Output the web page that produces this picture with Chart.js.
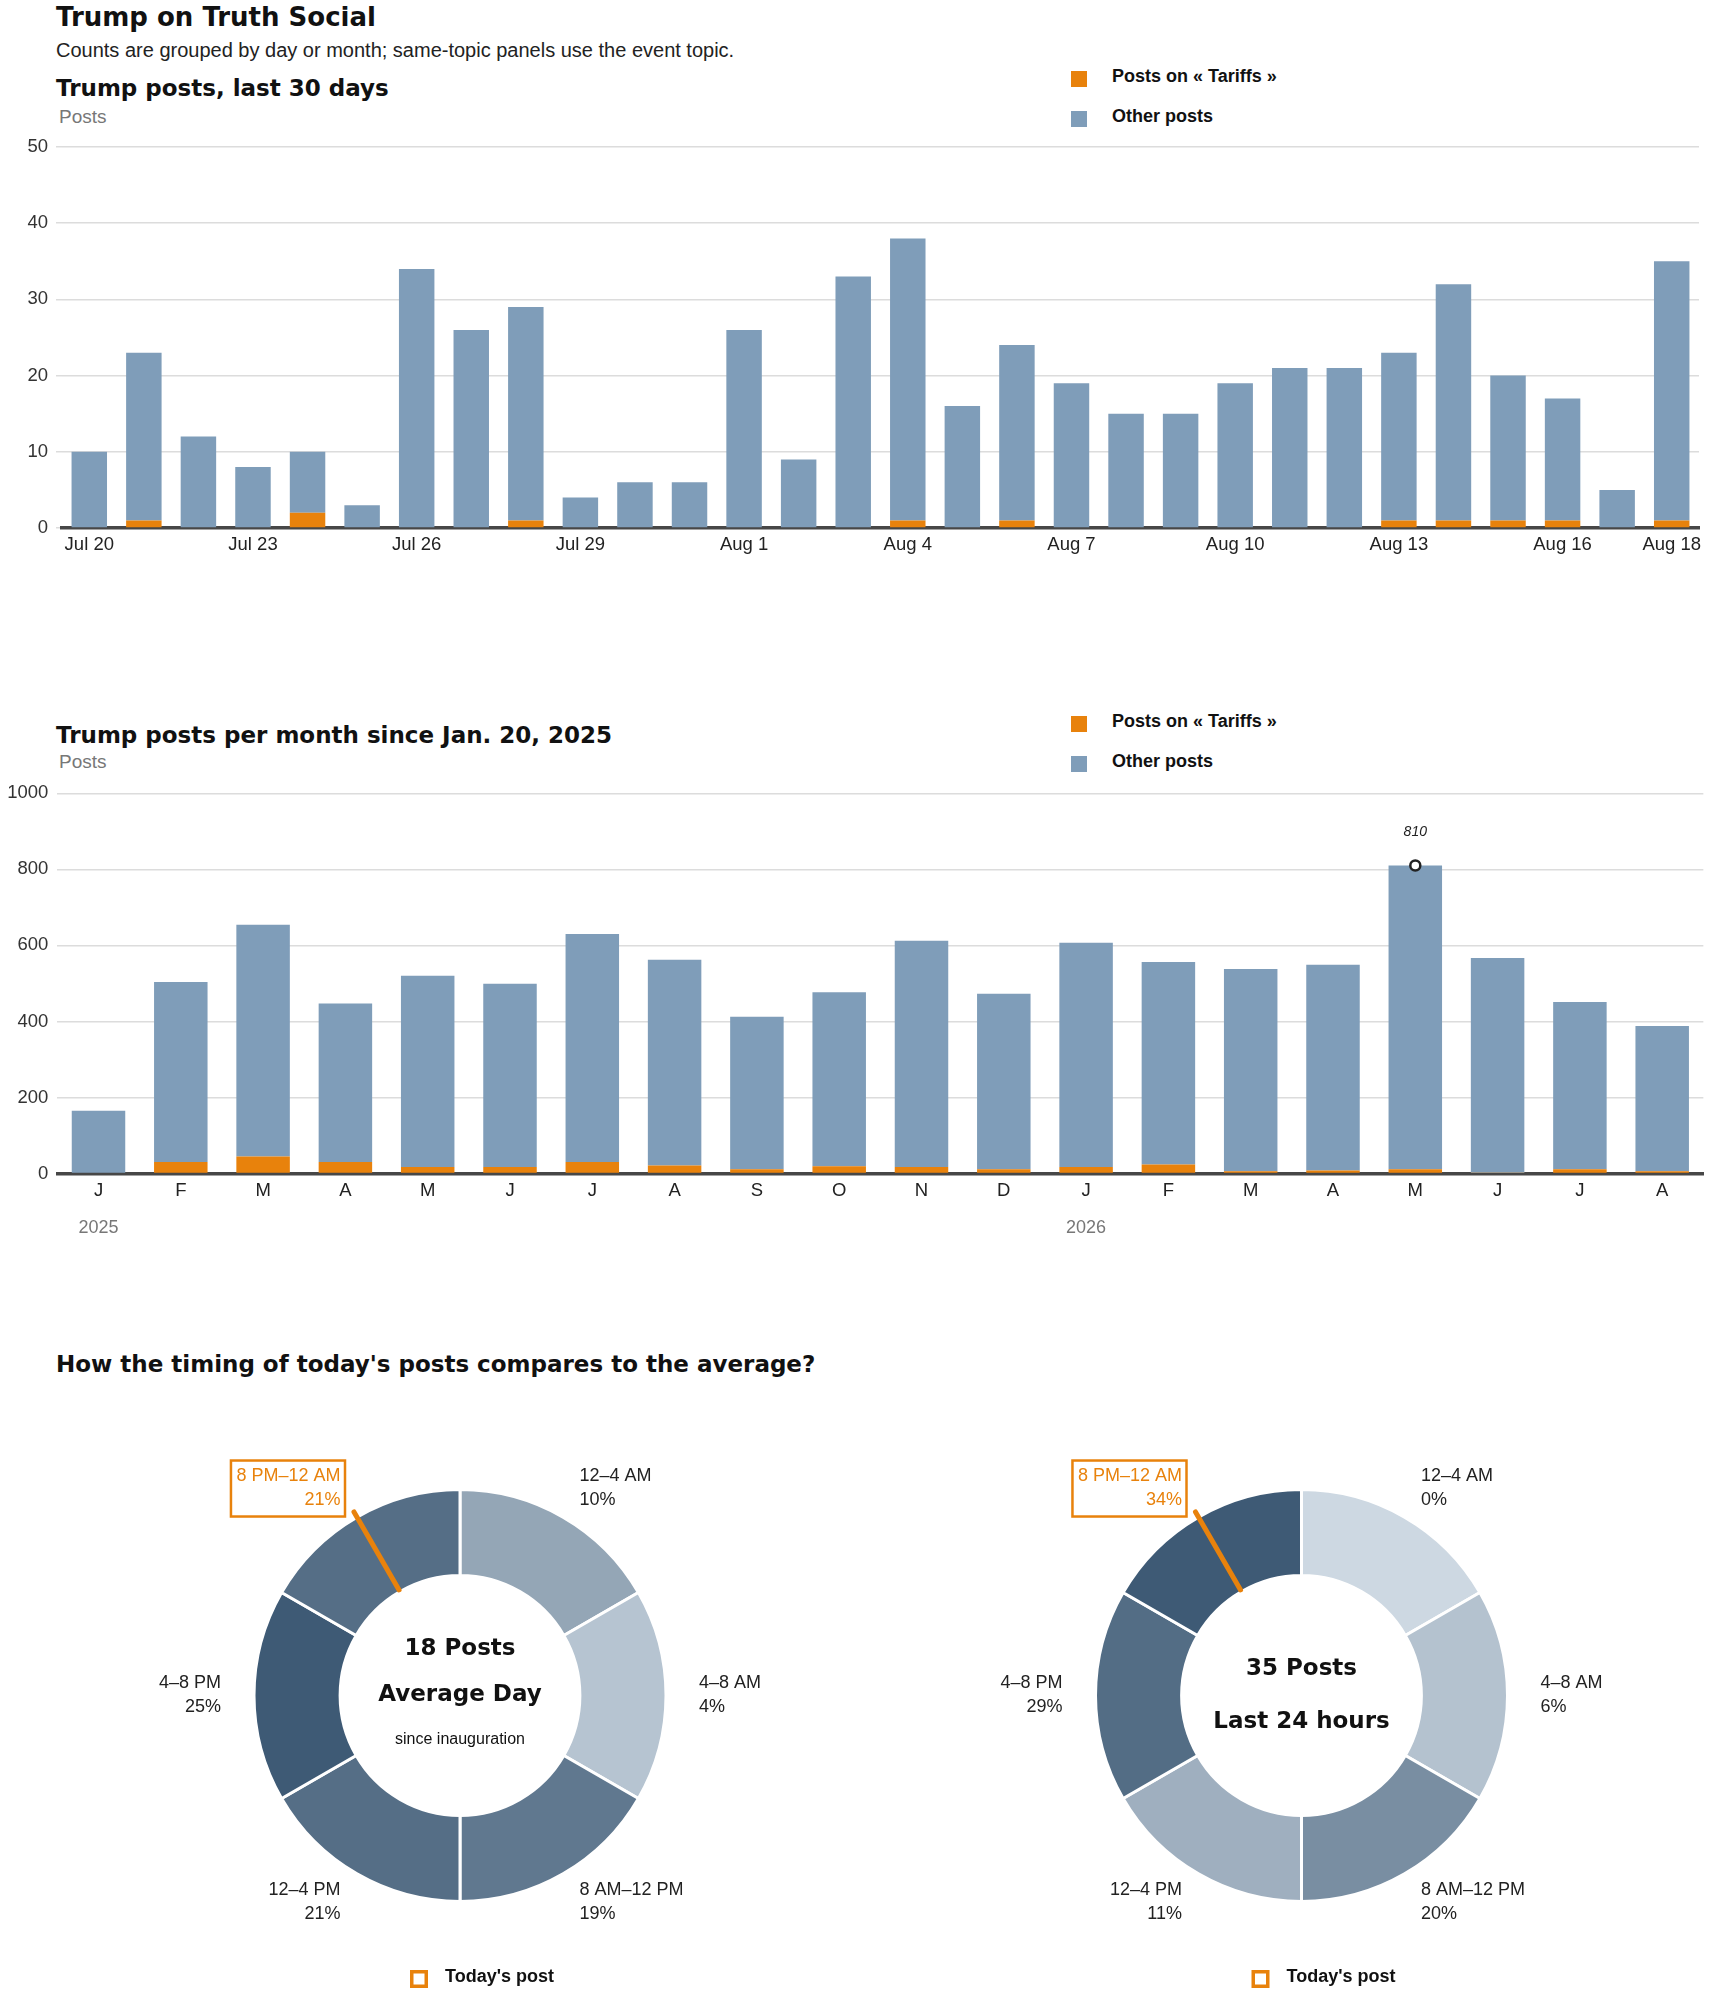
<!DOCTYPE html>
<html><head><meta charset="utf-8">
<script src="https://cdn.jsdelivr.net/npm/chart.js@4.4.1/dist/chart.umd.min.js"></script>
<style>
html,body{margin:0;padding:0;background:#fff;}
body{width:1710px;height:1993px;position:relative;overflow:hidden;font-family:"Liberation Sans",Arial,sans-serif;color:#1a1a1a;}
.t{position:absolute;white-space:nowrap;line-height:1;}
.h{font-family:"DejaVu Sans",sans-serif;font-weight:700;color:#111;}
.b{font-weight:700;color:#111;}
.g{color:#777;}
canvas{position:absolute;}
.sw{position:absolute;width:16px;height:16px;}
</style></head><body>

<div class="t h" style="left:56px;top:3.5px;font-size:26px;">Trump on Truth Social</div>
<div class="t" style="left:56px;top:40px;font-size:20px;color:#222;">Counts are grouped by day or month; same-topic panels use the event topic.</div>

<div class="t h" style="left:56px;top:77px;font-size:23px;">Trump posts, last 30 days</div>
<div class="t g" style="left:59px;top:107px;font-size:19px;">Posts</div>
<div class="sw" id="lg1a" style="left:1071px;top:71px;"></div>
<div class="t b" style="left:1112px;top:67px;font-size:18px;">Posts on «&nbsp;Tariffs&nbsp;»</div>
<div class="sw" id="lg1b" style="left:1071px;top:111px;"></div>
<div class="t b" style="left:1112px;top:107px;font-size:18px;">Other posts</div>
<canvas id="c1" width="1710" height="460" style="left:0;top:100px;width:1710px;height:460px;"></canvas>

<div class="t h" style="left:56px;top:723.5px;font-size:23px;">Trump posts per month since Jan. 20, 2025</div>
<div class="t g" style="left:59px;top:752px;font-size:19px;">Posts</div>
<div class="sw" id="lg2a" style="left:1071px;top:716px;"></div>
<div class="t b" style="left:1112px;top:712px;font-size:18px;">Posts on «&nbsp;Tariffs&nbsp;»</div>
<div class="sw" id="lg2b" style="left:1071px;top:756px;"></div>
<div class="t b" style="left:1112px;top:752px;font-size:18px;">Other posts</div>
<canvas id="c2" width="1710" height="505" style="left:0;top:740px;width:1710px;height:505px;"></canvas>

<div class="t h" style="left:56px;top:1352.5px;font-size:23px;">How the timing of today's posts compares to the average?</div>
<canvas id="d1" width="855" height="593" style="left:0;top:1400px;width:855px;height:593px;"></canvas>
<canvas id="d2" width="855" height="593" style="left:855px;top:1400px;width:855px;height:593px;"></canvas>

<script>
// ---------------- data ----------------
const dayLabels = ['Jul 20','Jul 21','Jul 22','Jul 23','Jul 24','Jul 25','Jul 26','Jul 27','Jul 28','Jul 29','Jul 30','Jul 31',
  'Aug 1','Aug 2','Aug 3','Aug 4','Aug 5','Aug 6','Aug 7','Aug 8','Aug 9','Aug 10','Aug 11','Aug 12','Aug 13','Aug 14','Aug 15','Aug 16','Aug 17','Aug 18'];
const dayTariffPosts = [0,1,0,0,2,0,0,0,1,0,0,0,0,0,0,1,0,1,0,0,0,0,0,0,1,1,1,1,0,1];
const dayOtherPosts  = [10,22,12,8,8,3,34,26,28,4,6,6,26,9,33,37,16,23,19,15,15,19,21,21,22,31,19,16,5,34];
const dayTickStep = 3;
const dayTicks = [0,10,20,30,40,50];

const monthLabels = ['J','F','M','A','M','J','J','A','S','O','N','D','J','F','M','A','M','J','J','A'];
const monthYears  = [2025,2025,2025,2025,2025,2025,2025,2025,2025,2025,2025,2025,2026,2026,2026,2026,2026,2026,2026,2026];
const monthTariffPosts = [0,30,45,30,17,17,30,21,11,19,17,11,17,24,6,8,11,1,11,6];
const monthOtherPosts  = [165,474,609,417,503,482,600,541,401,458,595,462,590,532,532,541,799,566,440,382];
const monthTicks = [0,200,400,600,800,1000];

const seriesNames = ['Posts on « Tariffs »','Other posts'];

const slotLabels = ['12–4 AM','4–8 AM','8 AM–12 PM','12–4 PM','4–8 PM','8 PM–12 AM'];
const slotHours  = [4,4,4,4,4,4];
const avgShare   = [10,4,19,21,25,21];
const todayShare = [0,6,20,11,29,34];
const todaySlot  = 5;
const avgPosts = 18;
const todayPosts = 35;

// ---------------- styles ----------------
const FONT = '"Liberation Sans", Arial, sans-serif';
const HFONT = '"DejaVu Sans", sans-serif';
const ORANGE = '#e8820c';
const BLUE = '#7f9db9';
const LIGHT = [205,216,226], DARK = [62,90,117];
document.getElementById('lg1a').style.background = ORANGE;
document.getElementById('lg2a').style.background = ORANGE;
document.getElementById('lg1b').style.background = BLUE;
document.getElementById('lg2b').style.background = BLUE;

function shade(v, max){
  const t = max ? v / max : 0;
  const c = LIGHT.map((l,i)=>Math.round(l + (DARK[i]-l)*t));
  return 'rgb(' + c.join(',') + ')';
}

function barOptions(cfg){
  return {
    responsive:false, animation:false, events:[],
    layout:{padding:cfg.padding},
    plugins:{legend:{display:false}, tooltip:{enabled:false}},
    scales:{
      x:{stacked:true, grid:{display:false, drawTicks:false},
         border:{display:true, color:'#474747', width:3.5},
         ticks:{autoSkip:false, maxRotation:0, minRotation:0, padding:6, color:'#222',
                font:{family:FONT, size:18.5}, callback:(v,i)=>cfg.xLabel(i)},
         afterFit:s=>{s.height = cfg.xHeight;}},
      y:{stacked:true, min:0, max:cfg.ticks[cfg.ticks.length-1],
         afterBuildTicks:s=>{s.ticks = cfg.ticks.map(v=>({value:v}));},
         grid:{color:'#dcdcdc', lineWidth:1.5, drawTicks:cfg.yTickLen>0, tickLength:cfg.yTickLen},
         border:{display:false},
         ticks:{padding:cfg.yPad, color:'#333', font:{family:FONT, size:18.5}, callback:v=>String(v)},
         afterFit:s=>{s.width = cfg.yWidth;}}
    }
  };
}

// ---------------- chart 1 ----------------
new Chart(document.getElementById('c1'), {
  type:'bar',
  data:{labels:dayLabels, datasets:[
    {label:seriesNames[0], data:dayTariffPosts, backgroundColor:ORANGE, barPercentage:0.65, categoryPercentage:1},
    {label:seriesNames[1], data:dayOtherPosts, backgroundColor:BLUE, barPercentage:0.65, categoryPercentage:1}
  ]},
  options:barOptions({
    padding:{top:47, right:11, bottom:0, left:0},
    xHeight:32, yWidth:62, yPad:8, yTickLen:6, ticks:dayTicks,
    xLabel:i=> (i % dayTickStep === 0 || i === dayLabels.length-1) ? dayLabels[i] : ''
  })
});

// ---------------- chart 2 ----------------
const monthPlugin = {
  id:'monthDecor',
  afterDatasetsDraw(chart){
    const ctx = chart.ctx, xs = chart.scales.x, ys = chart.scales.y;
    const totals = monthOtherPosts.map((v,i)=>v + monthTariffPosts[i]);
    const maxV = Math.max(...totals), mi = totals.indexOf(maxV);
    const px = xs.getPixelForValue(mi), py = ys.getPixelForValue(maxV);
    ctx.save();
    ctx.beginPath(); ctx.arc(px, py, 5, 0, Math.PI*2);
    ctx.fillStyle = '#fff'; ctx.fill();
    ctx.lineWidth = 2.5; ctx.strokeStyle = '#222'; ctx.stroke();
    ctx.font = 'italic 14px ' + FONT; ctx.fillStyle = '#222';
    ctx.textAlign = 'center'; ctx.textBaseline = 'alphabetic';
    ctx.fillText(String(maxV), px, py - 30);
    ctx.font = '18px ' + FONT; ctx.fillStyle = '#777';
    monthYears.forEach((yr,i)=>{
      if (i === 0 || monthYears[i-1] !== yr) ctx.fillText(String(yr), xs.getPixelForValue(i), xs.top + 59.5);
    });
    ctx.restore();
  }
};
new Chart(document.getElementById('c2'), {
  type:'bar',
  data:{labels:monthLabels, datasets:[
    {label:seriesNames[0], data:monthTariffPosts, backgroundColor:ORANGE, barPercentage:0.65, categoryPercentage:1},
    {label:seriesNames[1], data:monthOtherPosts, backgroundColor:BLUE, barPercentage:0.65, categoryPercentage:1}
  ]},
  options:barOptions({
    padding:{top:53.3, right:6.65, bottom:0, left:0},
    xHeight:71.5, yWidth:57.35, yPad:9, yTickLen:0, ticks:monthTicks,
    xLabel:i=>monthLabels[i]
  }),
  plugins:[monthPlugin]
});

// ---------------- donuts ----------------
function donut(id, shares, centerLines, cx, cy){
  const canvasW = 855, canvasH = 593;
  const half = 207.5; // chart area half-size
  const pad = {left:cx-half, right:canvasW-(cx+half), top:cy-half, bottom:canvasH-(cy+half)};
  const maxShare = Math.max(...shares);
  const decor = {
    id:'donutDecor',
    afterDatasetsDraw(chart){
      const ctx = chart.ctx, arcs = chart.getDatasetMeta(0).data;
      const x0 = arcs[0].x, y0 = arcs[0].y, R = arcs[0].outerRadius, r = arcs[0].innerRadius;
      ctx.save();
      // today's post indicator
      const ta = arcs[todaySlot], tm = (ta.startAngle + ta.endAngle)/2;
      ctx.beginPath();
      ctx.moveTo(x0 + Math.cos(tm)*(r+2), y0 + Math.sin(tm)*(r+2));
      ctx.lineTo(x0 + Math.cos(tm)*(R+6), y0 + Math.sin(tm)*(R+6));
      ctx.strokeStyle = ORANGE; ctx.lineWidth = 5; ctx.lineCap = 'round'; ctx.stroke();
      // slice labels
      ctx.font = '18px ' + FONT; ctx.textBaseline = 'middle';
      arcs.forEach((arc,i)=>{
        const m = (arc.startAngle + arc.endAngle)/2;
        const lx = x0 + Math.cos(m)*(R+33), ly = y0 + Math.sin(m)*(R+33);
        const right = Math.cos(m) > -0.01;
        ctx.textAlign = right ? 'left' : 'right';
        const hl = i === todaySlot;
        ctx.fillStyle = hl ? ORANGE : '#222';
        const l1 = slotLabels[i], l2 = shares[i] + '%';
        ctx.fillText(l1, lx, ly - 12);
        ctx.fillText(l2, lx, ly + 12);
        if (hl){
          const w = Math.max(ctx.measureText(l1).width, ctx.measureText(l2).width);
          const bx = right ? lx - 5 : lx - w - 5.5;
          ctx.lineWidth = 2.5; ctx.strokeStyle = ORANGE;
          ctx.strokeRect(bx, ly - 28, w + 10, 56);
        }
      });
      // center text
      ctx.textAlign = 'center'; ctx.textBaseline = 'alphabetic'; ctx.fillStyle = '#111';
      centerLines.forEach(l=>{ ctx.font = l.font; ctx.fillText(l.text, x0, y0 + l.dy); });
      // legend
      ctx.lineWidth = 3.5; ctx.strokeStyle = ORANGE;
      ctx.strokeRect(x0 - 50 + 1.75, y0 + 274.5 + 1.75, 18 - 3.5, 18 - 3.5);
      ctx.font = 'bold 18px ' + FONT; ctx.fillStyle = '#111'; ctx.textAlign = 'left'; ctx.textBaseline = 'middle';
      ctx.fillText("Today's post", x0 - 15, y0 + 282);
      ctx.restore();
    }
  };
  new Chart(document.getElementById(id), {
    type:'doughnut',
    data:{labels:slotLabels, datasets:[{data:slotHours, backgroundColor:shares.map(s=>shade(s,maxShare)),
      borderColor:'#fff', borderWidth:3, hoverBorderWidth:3}]},
    options:{responsive:false, animation:false, events:[], cutout:'58.2%',
      layout:{padding:pad},
      plugins:{legend:{display:false}, tooltip:{enabled:false}}},
    plugins:[decor]
  });
}
donut('d1', avgShare, [
  {text:avgPosts + ' Posts', font:'bold 23px ' + HFONT, dy:-40.5},
  {text:'Average Day', font:'bold 23px ' + HFONT, dy:5.5},
  {text:'since inauguration', font:'16px ' + FONT, dy:48}
], 460, 295.5);
donut('d2', todayShare, [
  {text:todayPosts + ' Posts', font:'bold 23px ' + HFONT, dy:-21},
  {text:'Last 24 hours', font:'bold 23px ' + HFONT, dy:32.5}
], 1301.5 - 855, 295.5);
</script>
</body></html>
